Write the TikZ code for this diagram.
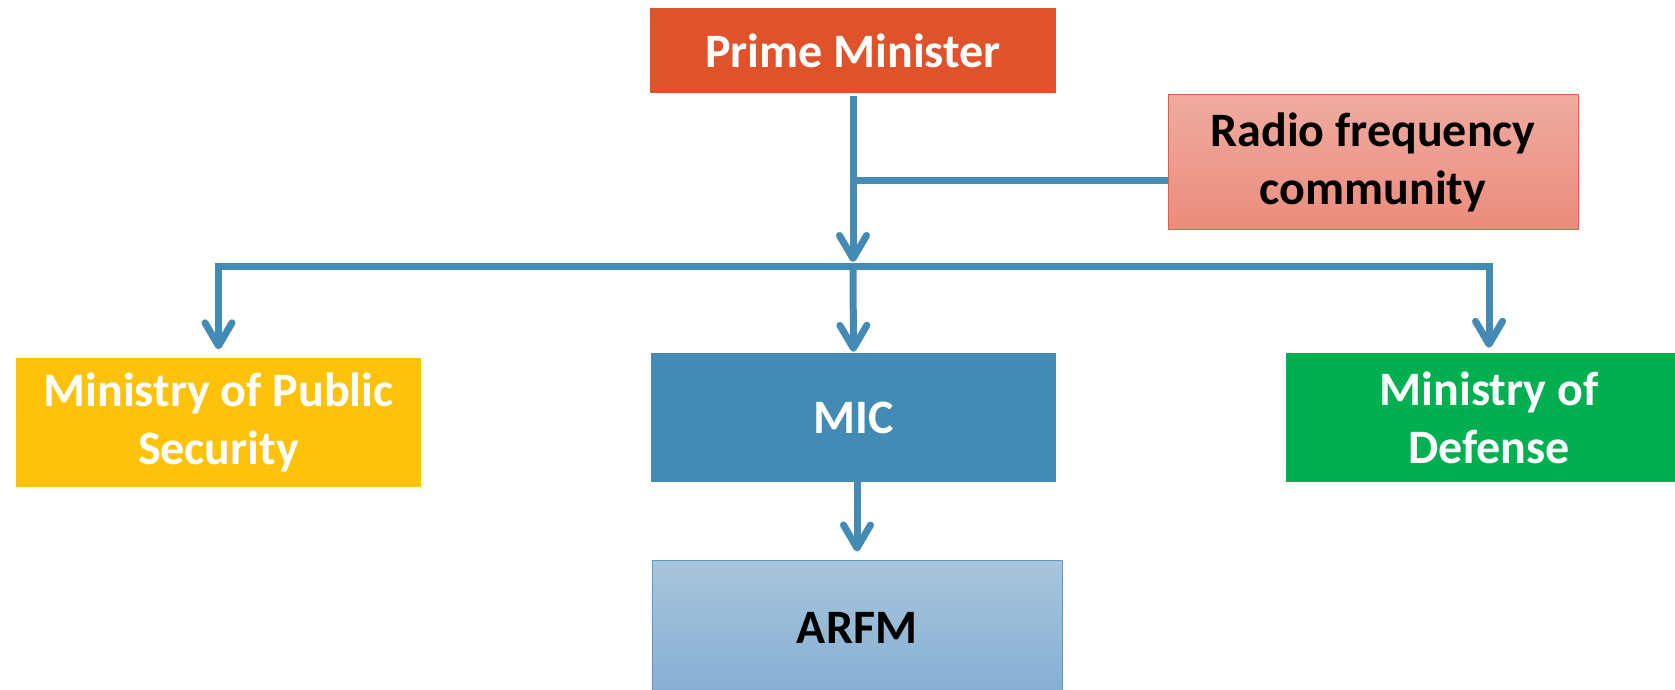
\documentclass[tikz,border=0pt]{standalone}
\usepackage{fontspec}
\setmainfont{Carlito}
\usetikzlibrary{arrows.meta}
\definecolor{pmred}{HTML}{E0532A}
\definecolor{micblue}{HTML}{438BB5}
\definecolor{linkblue}{HTML}{438AB5}
\definecolor{mpsyellow}{HTML}{FFC20A}
\definecolor{modgreen}{HTML}{00AF50}
\definecolor{rftop}{HTML}{EFABA0}
\definecolor{rfbot}{HTML}{EB8C7C}
\definecolor{rfborder}{HTML}{E2603F}
\definecolor{arftop}{HTML}{A8C5DB}
\definecolor{arfbot}{HTML}{86AED3}
\definecolor{arfborder}{HTML}{5A9ACA}
\tikzset{
  box/.style={rectangle, inner sep=0pt, align=center, font=\bfseries\fontsize{48}{58}\selectfont},
  conn/.style={draw=linkblue, line width=7pt, line cap=butt},
  arr/.style={conn, -{Straight Barb[length=23pt,width=27pt,round]}},
}
\begin{document}
\begin{tikzpicture}[x=1pt,y=-1pt]
\useasboundingbox (0,0) rectangle (1675,690);
\begin{scope}
\clip (0,0) rectangle (1675,690);
\node[box, fill=pmred, text=white, minimum width=406pt, minimum height=85pt] (pm) at (853,50.5) {Prime Minister};
\node[box, top color=rftop, bottom color=rfbot, draw=rfborder, line width=1pt, text=black, minimum width=410pt, minimum height=134pt] (rf) at (1373,162) {Radio frequency\\community};
\node[box, fill=mpsyellow, text=white, minimum width=405pt, minimum height=129pt] (mps) at (218.5,422) {Ministry of Public\\Security};
\node[box, fill=micblue, text=white, minimum width=405pt, minimum height=129pt] (mic) at (853.5,417.5) {MIC};
\node[box, fill=modgreen, text=white, minimum width=406pt, minimum height=129pt] (mod) at (1489,417.5) {Ministry of\\Defense};
\node[box, top color=arftop, bottom color=arfbot, draw=arfborder, line width=1pt, text=black, minimum width=410pt, minimum height=136pt] (arfm) at (857,628) {ARFM};
\end{scope}
\coordinate (jr) at (853,180);
\coordinate (jm) at (853,266);
\coordinate (bl) at (218.5,266);
\coordinate (br) at (1489,266);
\coordinate (blt) at (218.5,262.5);
\coordinate (brt) at (1489,262.5);
\coordinate (jmb) at (853,270);
\draw[arr, shorten <=3pt, shorten >=4pt] (pm.south) -- (jm);
\draw[conn] (jr) -- (jr -| rf.west);
\draw[conn] (bl) -- (br);
\draw[arr, shorten >=8pt] (blt) -- (mps.north);
\draw[arr, shorten >=1pt] (jmb) -- (mic.north);
\draw[arr, shorten >=5pt] (brt) -- (mod.north);
\draw[arr, shorten >=8pt] (mic.south -| arfm.north) -- (arfm.north);
\end{tikzpicture}
\end{document}
